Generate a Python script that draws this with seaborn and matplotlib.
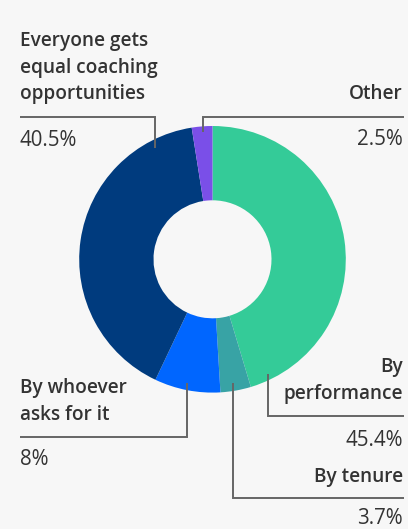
import matplotlib
matplotlib.use("Agg")
import matplotlib.pyplot as plt
import seaborn as sns

sns.set_theme(style="white")
plt.rcParams["font.family"] = ["Open Sans", "DejaVu Sans"]

# Coaching allocation shares, clockwise from 12 o'clock
categories = ["By\nperformance", "By tenure", "By whoever\nasks for it",
              "Everyone gets\nequal coaching\nopportunities", "Other"]
shares = [45.4, 3.7, 8.0, 40.5, 2.5]
share_labels = ["45.4%", "3.7%", "8%", "40.5%", "2.5%"]
colors = ["#34CB98", "#38A3A5", "#0066FF", "#003B7E", "#7A4FE8"]

BG = "#F7F7F7"
TEXT = "#333333"
LINE = "#666666"
W, H = 408, 529

fig = plt.figure(figsize=(W / 100, H / 100), dpi=100, facecolor=BG)
ax = fig.add_axes([0, 0, 1, 1])
ax.set_facecolor(BG)
ax.axis("off")


def py(y):
    """Convert a top-down pixel row into axes data units."""
    return H - y


cx, cy, R = 212.5, 259.3, 133.3
ax.pie(shares, colors=colors, startangle=90, counterclock=False,
       center=(cx, py(cy)), radius=R, normalize=True,
       wedgeprops=dict(width=74.3, linewidth=0))
ax.set_xlim(0, W)
ax.set_ylim(0, H)
ax.set_aspect("equal")

# Label layout: (side, text x, first baseline, rule y, anchor x, anchor y, pct baseline)
layout = {
    0: ("right", 403, 372, 415.7, 267.5, 374, 446),
    1: ("right", 403, 482, 497.7, 232.7, 383, 524.5),
    2: ("left", 20, 393, 436.7, 186.5, 383, 465),
    3: ("left", 20, 46, 117, 154.5, 148, 146),
    4: ("right", 403, 99, 117, 202.5, 132, 145),
}
LINE_STEP = 26.5

for i, (label, pct) in enumerate(zip(categories, share_labels)):
    side, tx, base, rule_y, axx, ayy, pct_y = layout[i]
    ha = "left" if side == "left" else "right"
    for k, line in enumerate(label.split("\n")):
        ax.text(tx, py(base + k * LINE_STEP), line, ha=ha, va="baseline",
                fontsize=13.7, fontweight="semibold", color=TEXT)
    ax.text(tx, py(pct_y), pct, ha=ha, va="baseline", fontsize=14.8,
            fontweight="normal", color=TEXT)
    x_far = 20 if side == "left" else 404
    ax.plot([x_far, axx, axx], [py(rule_y), py(rule_y), py(ayy)],
            color=LINE, linewidth=1.4, solid_joinstyle="miter",
            solid_capstyle="butt")

fig.savefig("out.png", dpi=100, facecolor=BG)
